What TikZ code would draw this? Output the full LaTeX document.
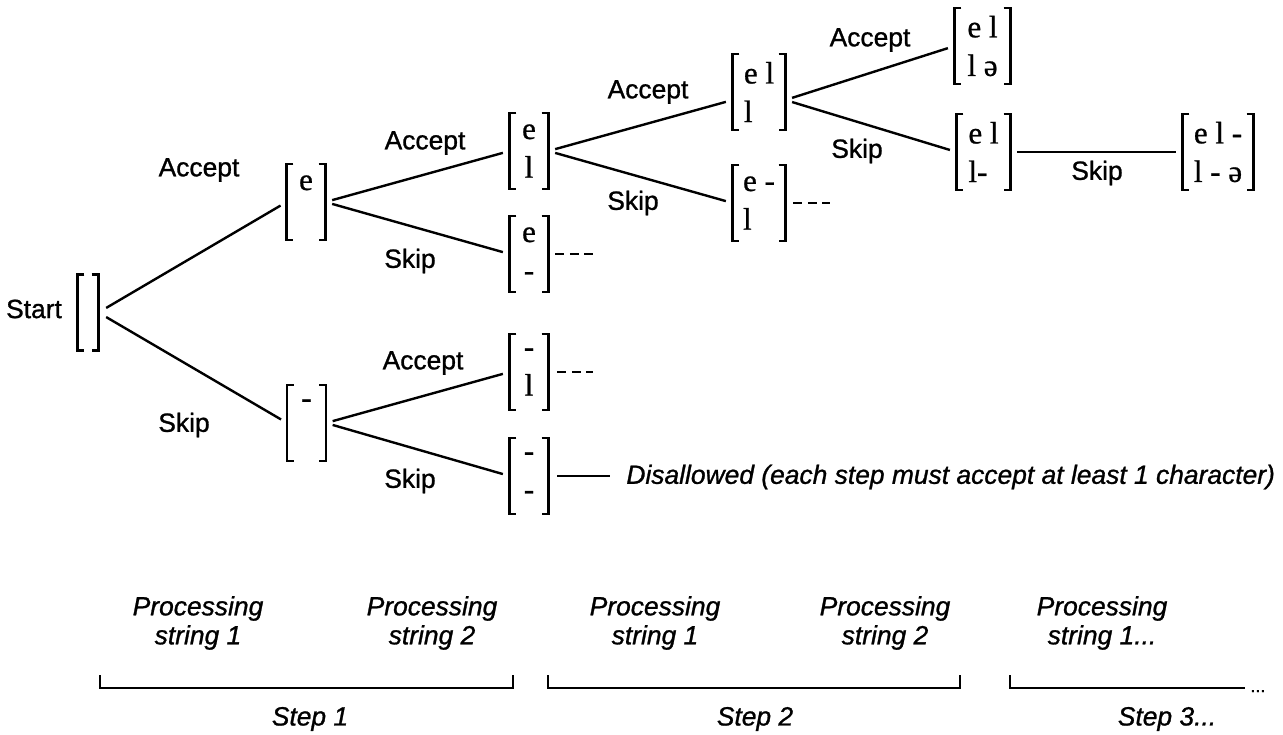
\documentclass[tikz,border=0pt]{standalone}
\usepackage{fontspec}
\setmainfont{Liberation Sans}[FakeBold=1]
\newfontfamily\lblfont{Liberation Sans}[FakeBold=1]
\newfontfamily\itfont{Liberation Sans Italic}[FakeBold=1]
\newfontfamily\vecfont{Liberation Serif}[FakeBold=0.8]
\newcommand\vbrk[1]{%
  \draw[brk] ([xshift=3.4pt]#1.north west) -| (#1.south west) -- ++(6.8,0);
  \draw[brk] ([xshift=-3.4pt]#1.north east) -| (#1.south east) -- ++(-6.8,0);}
\begin{document}
\begin{tikzpicture}[x=0.5pt,y=-0.5pt,
  lbl/.style={font=\lblfont\fontsize{13.2}{15}\selectfont, inner sep=0},
  ital/.style={font=\itfont\fontsize{13.2}{14.5}\selectfont, inner sep=0, align=center},
  vec/.style={inner sep=0, minimum height=37.5pt, minimum width=19pt, align=center,
              font=\vecfont\fontsize{15.5}{19.3}\selectfont},
  vecL/.style={vec, align=left},
  conn/.style={line width=1.2pt, shorten <=3.5pt, shorten >=3.5pt},
  brk/.style={line width=1.2pt},
  dsh/.style={line width=1.2pt, dash pattern=on 4.5pt off 2.75pt},
  stepbr/.style={line width=1.1pt}]
\useasboundingbox (0,0) rectangle (1283,734);

% ---- tree nodes ----
\node[lbl] (starttxt) at (34,309) {Start};
\node[vec, minimum width=10pt] (s0) at (88,312.5) {};
\node[vec] (n1) at (306,202) {e\\\phantom{l}};
\node[vec] (n2) at (306.5,423) {-\\\phantom{l}};
\node[vec] (n11) at (529,151) {e\\l};
\node[vec] (n12) at (529,254) {e\\-};
\node[vec] (n21) at (529,372) {-\\l};
\node[vec] (n22) at (529,476) {-\\-};
\node[vecL, minimum width=26pt] (n111) at (759,92) {e l\\l};
\node[vecL, minimum width=26pt] (n112) at (759,203) {e -\\l};
\node[vecL, minimum width=27.5pt] (n1111) at (982.5,46) {e l\\l ə};
\node[vecL, minimum width=26.5pt] (n1112) at (983.5,152) {e l\\l-};
\node[vecL, minimum width=35pt] (n11121) at (1218,152) {e l -\\l - ə};

\foreach \n in {s0,n1,n2,n11,n12,n21,n22,n111,n112,n1111,n1112,n11121} {\vbrk{\n}}

% ---- connectors ----
\draw[conn, shorten <=4.5pt] (s0.east) -- (n1.west);
\draw[conn, shorten <=4.5pt] (s0.east) -- (n2.west);
\draw[conn] (n1.east) -- (n11.west);
\draw[conn] (n1.east) -- (n12.west);
\draw[conn] (n2.east) -- (n21.west);
\draw[conn] (n2.east) -- (n22.west);
\draw[conn] (n11.east) -- ([yshift=-4pt]n111.west);
\draw[conn] (n11.east) -- (n112.west);
\draw[conn] ([yshift=-4pt]n111.east) -- (n1111.west);
\draw[conn] ([yshift=-4pt]n111.east) -- (n1112.west);
\draw[conn] (n1112.east) -- (n11121.west);

% ---- continuation marks ----
\coordinate (d12) at (593,254);
\coordinate (d21) at (593,372);
\coordinate (d112) at (830,203);
\draw[dsh] ([xshift=3.5pt]n12.east) -- (d12);
\draw[dsh] ([xshift=4.5pt]n21.east) -- (d21);
\draw[dsh] ([xshift=4pt]n112.east) -- (d112);
\node[ital, anchor=west] (dis) at (626,477) {Disallowed (each step must accept at least 1 character)};
\draw[brk] ([xshift=4.5pt]n22.east) -- ([xshift=-8pt]dis.west |- n22.east);

% ---- edge labels ----
\node[lbl] (la1) at (199,170) {Accept};
\node[lbl] (ls1) at (184,425) {Skip};
\node[lbl] (la2) at (425,143) {Accept};
\node[lbl] (ls2) at (410,261) {Skip};
\node[lbl] (la3) at (423,363) {Accept};
\node[lbl] (ls3) at (410,481) {Skip};
\node[lbl] (la4) at (648,92) {Accept};
\node[lbl] (ls4) at (633,203) {Skip};
\node[lbl] (la5) at (870,40) {Accept};
\node[lbl] (ls5) at (857,151) {Skip};
\node[lbl] (ls6) at (1097,173) {Skip};

% ---- bottom annotations ----
\node[ital] (p1) at (198,623) {Processing\\string 1};
\node[ital] (p2) at (432,623) {Processing\\string 2};
\node[ital] (p3) at (655,623) {Processing\\string 1};
\node[ital] (p4) at (885,623) {Processing\\string 2};
\node[ital] (p5) at (1102,623) {Processing\\string 1...};

\draw[stepbr] (100,675) -- (100,688) -- (513,688) -- (513,675);
\draw[stepbr] (548,675) -- (548,688) -- (960,688) -- (960,675);
\draw[stepbr] (1010,675) -- (1010,688) -- (1245,688);
\node[font=\lblfont\fontsize{9}{10}\selectfont, inner sep=0, anchor=base west] (dots) at (1250,692) {...};

\node[ital] (st1) at (310,719) {Step 1};
\node[ital] (st2) at (755,719) {Step 2};
\node[ital] (st3) at (1167,719) {Step 3...};
\end{tikzpicture}
\end{document}
